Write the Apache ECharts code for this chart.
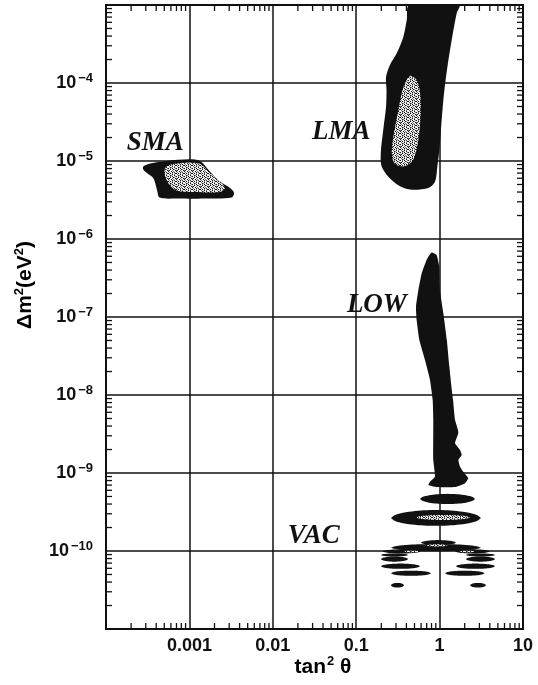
<!DOCTYPE html>
<html>
<head>
<meta charset="utf-8">
<script src="https://cdn.jsdelivr.net/npm/echarts@6/dist/echarts.min.js"></script>
<style>
html,body{margin:0;padding:0;background:#fff;}
#c{width:538px;height:685px;}
</style>
</head>
<body>
<div id="c"></div>
<script>
// ---- axis ranges / tick labels ----
const X_MIN = 1e-4, X_MAX = 10;
const Y_MIN = 1e-11, Y_MAX = 1e-3;
const xTickLabels = { '-3': '0.001', '-2': '0.01', '-1': '0.1', '0': '1', '1': '10' };
const yTickExponents = [-4, -5, -6, -7, -8, -9, -10];
const minorMantissas = [2, 3, 4, 5, 6, 7, 8, 9];
const xDecades = [-4, -3, -2, -1, 0];
const yDecades = [-11, -10, -9, -8, -7, -6, -5, -4];

// ---- allowed regions: [tan^2 theta, delta m^2] outline points ----
const smaOuter = [[2.8e-4,8.5e-6],[3.4e-4,9.3e-6],[5.3e-4,1.0e-5],[1.0e-3,1.05e-5],[1.34e-3,1.0e-5],[1.77e-3,7.3e-6],[2.33e-3,5.4e-6],[3.07e-3,4.5e-6],[3.43e-3,3.9e-6],[3.2e-3,3.4e-6],[1.77e-3,3.3e-6],[7.0e-4,3.3e-6],[4.4e-4,3.4e-6],[4.1e-4,4.2e-6],[3.7e-4,6.0e-6],[3.1e-4,7.0e-6],[2.8e-4,7.8e-6]];
const smaInner = [[5.3e-4,8.5e-6],[7.0e-4,9.3e-6],[1.0e-3,9.6e-6],[1.34e-3,9.2e-6],[1.77e-3,7.0e-6],[2.33e-3,5.4e-6],[2.67e-3,4.5e-6],[2.33e-3,4.0e-6],[1.11e-3,4.0e-6],[7.0e-4,4.2e-6],[5.6e-4,5.2e-6],[5.0e-4,7.0e-6]];
const lmaOuter = [[0.434,1e-3],[0.404,6.4e-4],[0.367,3.9e-4],[0.306,2.4e-4],[0.254,1.7e-4],[0.228,1.2e-4],[0.231,8.1e-5],[0.228,5.0e-5],[0.211,2.5e-5],[0.197,1.26e-5],[0.202,8.5e-6],[0.243,6.3e-6],[0.320,4.9e-6],[0.442,4.3e-6],[0.733,4.5e-6],[0.88,5.4e-6],[0.94,8.5e-6],[1.0,1.5e-5],[1.06,3.4e-5],[1.13,7.4e-5],[1.24,1.6e-4],[1.40,3.6e-4],[1.60,7.8e-4],[1.72,1e-3]];
const lmaInner = [[0.44,1.23e-4],[0.37,9.0e-5],[0.32,4.5e-5],[0.279,2.05e-5],[0.267,1.26e-5],[0.29,9.3e-6],[0.37,8.5e-6],[0.48,1.03e-5],[0.556,1.86e-5],[0.593,4.1e-5],[0.585,7.4e-5],[0.53,1.09e-4]];
const lowRegion = [[0.80,6.7e-7],[0.70,5.4e-7],[0.61,3.6e-7],[0.556,2.2e-7],[0.521,1.36e-7],[0.53,9.2e-8],[0.571,5.1e-8],[0.668,2.8e-8],[0.767,1.56e-8],[0.826,8.6e-9],[0.84,4.8e-9],[0.84,1.47e-9],[0.88,9.0e-10],[0.767,7.7e-10],[0.733,7.0e-10],[0.923,6.6e-10],[1.53,6.6e-10],[2.02,7.4e-10],[2.21,8.6e-10],[1.92,1.04e-9],[1.76,1.2e-9],[1.68,1.47e-9],[1.84,1.7e-9],[1.76,1.97e-9],[1.53,2.4e-9],[1.68,3.3e-9],[1.53,4.8e-9],[1.45,8.6e-9],[1.40,1.16e-8],[1.31,2.3e-8],[1.22,5.1e-8],[1.11,1.11e-7],[1.01,2.2e-7],[0.99,4.4e-7],[0.923,6.2e-7]];
// VAC islands: [tan^2 left, tan^2 right, dm^2 low, dm^2 high]
const vacBands = [
  [0.582,2.66,4.0e-10,5.4e-10],
  [0.261,3.13,2.1e-10,3.35e-10],
  [0.598,1.57,1.19e-10,1.38e-10],
  [0.261,3.13,0.99e-10,1.23e-10],
  [0.206,0.598,9.3e-11,1.05e-10],[1.53,4.02,9.3e-11,1.05e-10],
  [0.198,0.418,8.5e-11,9.3e-11],[2.07,4.62,8.5e-11,9.3e-11],
  [0.198,0.418,7.3e-11,8.5e-11],[2.07,4.62,7.3e-11,8.5e-11],
  [0.198,0.582,5.9e-11,6.9e-11],[1.57,4.62,5.9e-11,6.9e-11],
  [0.261,0.789,4.8e-11,5.6e-11],[1.16,3.47,4.8e-11,5.6e-11],
  [0.261,0.374,3.4e-11,3.9e-11],[2.32,3.60,3.4e-11,3.9e-11]
];
const vacInner = [[0.521,2.32,2.5e-10,2.9e-10],[0.70,1.25,1.14e-10,1.22e-10],[0.38,0.56,9.6e-11,1.01e-10],[1.75,2.6,9.6e-11,1.01e-10]];
// region names: [name, tan^2, dm^2]
const regionNames = [['SMA',3.9e-4,1.7e-5],['LMA',0.066,2.35e-5],['LOW',0.177,1.43e-7],['VAC',0.031,1.56e-10]];

// ---- styling helpers ----
const INK = '#111';
const STIPPLE_ROWS = [
  'X.g.X..g',
  '..X..Xg.',
  'gX..g..X',
  'X..X.g..',
  '.g..X.X.',
  'X.X.g..X',
  '.g..X.g.',
  '..Xg..X.'
];
function stipplePattern() {
  const N = STIPPLE_ROWS.length;
  const c = document.createElement('canvas');
  c.width = N; c.height = N;
  const g = c.getContext('2d');
  g.fillStyle = '#f0f0f0'; g.fillRect(0, 0, N, N);
  STIPPLE_ROWS.forEach((row, y) => {
    for (let x = 0; x < row.length; x++) {
      const ch = row[x];
      if (ch === 'X') { g.fillStyle = '#151515'; g.fillRect(x, y, 1, 1); }
      else if (ch === 'g') { g.fillStyle = '#777'; g.fillRect(x, y, 1, 1); }
    }
  });
  return { image: c, repeat: 'repeat' };
}
const STIPPLE = stipplePattern();

function regionSeries(pts, fill, smooth, z) {
  return {
    type: 'custom', coordinateSystem: 'cartesian2d', clip: true, silent: true, z: z,
    data: pts, encode: { x: 0, y: 1 },
    renderItem: function (params, api) {
      if (params.dataIndex !== 0) return null;
      const points = pts.map(p => api.coord(p));
      return { type: 'polygon', shape: { points: points, smooth: smooth }, style: { fill: fill, stroke: null } };
    }
  };
}
function bandSeries(bands, fill, z) {
  return {
    type: 'custom', coordinateSystem: 'cartesian2d', clip: true, silent: true, z: z,
    data: bands, encode: { x: [0, 1], y: [2, 3] },
    renderItem: function (params, api) {
      const a = api.coord([api.value(0), api.value(2)]);
      const b = api.coord([api.value(1), api.value(3)]);
      const cx = (a[0] + b[0]) / 2, cy = (a[1] + b[1]) / 2;
      const rx = Math.abs(b[0] - a[0]) / 2, ry = Math.abs(b[1] - a[1]) / 2;
      const top = [], bot = [];
      const n = 30;
      for (let i = 0; i <= n; i++) {
        const t = -1 + 2 * i / n;
        const h = ry * Math.pow(Math.max(0, 1 - t * t), 0.55);
        top.push([cx + rx * t, cy - h]);
        bot.unshift([cx + rx * t, cy + h]);
      }
      return { type: 'polygon', shape: { points: top.concat(bot) }, style: { fill: fill, stroke: null } };
    }
  };
}

const xMinorTicks = [];
xDecades.forEach(e => minorMantissas.forEach(m => xMinorTicks.push([m * Math.pow(10, e), Y_MIN])));
const yMinorTicks = [];
yDecades.forEach(e => minorMantissas.forEach(m => yMinorTicks.push([X_MIN, m * Math.pow(10, e)])));

function tickSeries(data, vertical) {
  return {
    type: 'custom', coordinateSystem: 'cartesian2d', clip: false, silent: true, z: 5,
    data: data, encode: { x: 0, y: 1 },
    renderItem: function (params, api) {
      const v = api.value(vertical ? 0 : 1);
      const L = 6;
      const st = { stroke: INK, lineWidth: 1.3 };
      if (vertical) {
        const p = api.coord([v, Y_MIN]), q = api.coord([v, Y_MAX]);
        return { type: 'group', children: [
          { type: 'line', shape: { x1: p[0], y1: p[1], x2: p[0], y2: p[1] - L }, style: st },
          { type: 'line', shape: { x1: q[0], y1: q[1], x2: q[0], y2: q[1] + L }, style: st }
        ]};
      } else {
        const p = api.coord([X_MIN, v]), q = api.coord([X_MAX, v]);
        return { type: 'group', children: [
          { type: 'line', shape: { x1: p[0], y1: p[1], x2: p[0] + L, y2: p[1] }, style: st },
          { type: 'line', shape: { x1: q[0], y1: q[1], x2: q[0] - L, y2: q[1] }, style: st }
        ]};
      }
    }
  };
}

const labelSeries = {
  type: 'custom', coordinateSystem: 'cartesian2d', clip: false, silent: true, z: 6,
  data: regionNames.map(r => [r[1], r[2], r[0]]), encode: { x: 0, y: 1 },
  renderItem: function (params, api) {
    const p = api.coord([api.value(0), api.value(1)]);
    return { type: 'text', x: p[0], y: p[1], style: {
      text: regionNames[params.dataIndex][0], fill: INK,
      font: 'italic bold 27px "Liberation Serif", "DejaVu Serif", serif',
      align: 'center', verticalAlign: 'middle' } };
  }
};

const sansBold = { fontFamily: 'Liberation Sans, Arial, sans-serif', fontWeight: 'bold', color: INK };

const chart = echarts.init(document.getElementById('c'), null, { renderer: 'canvas' });
chart.setOption({
  backgroundColor: '#fff',
  animation: false,
  grid: { left: 106, right: 15, top: 5, bottom: 56, show: true, borderColor: INK, borderWidth: 2, backgroundColor: 'transparent' },
  xAxis: {
    type: 'log', logBase: 10, min: X_MIN, max: X_MAX, splitNumber: 5,
    axisLine: { show: false }, axisTick: { show: false },
    splitLine: { show: true, lineStyle: { color: INK, width: 1.5 } },
    axisLabel: {
      margin: 8, fontSize: 18, ...sansBold,
      formatter: function (v) { const e = Math.round(Math.log10(v)); return xTickLabels[String(e)] || ''; }
    }
  },
  yAxis: {
    type: 'log', logBase: 10, min: Y_MIN, max: Y_MAX, splitNumber: 8,
    axisLine: { show: false }, axisTick: { show: false },
    splitLine: { show: true, lineStyle: { color: INK, width: 1.5 } },
    axisLabel: {
      margin: 13,
      formatter: function (v) {
        const e = Math.round(Math.log10(v));
        if (yTickExponents.indexOf(e) < 0) return '';
        return '{b|10}{s|\u2212' + (-e) + '}';
      },
      rich: {
        b: { fontSize: 18, lineHeight: 22, ...sansBold },
        s: { fontSize: 13, lineHeight: 13, verticalAlign: 'top', ...sansBold, padding: [0, 0, 0, 2] }
      }
    }
  },
  graphic: [
    { type: 'text', x: 323, y: 667, silent: true, style: {
      text: '{a|tan}{s|2}{a| \u03b8}', align: 'center', verticalAlign: 'middle',
      rich: { a: { fontSize: 21, lineHeight: 24, ...sansBold }, s: { fontSize: 13, lineHeight: 13, verticalAlign: 'top', ...sansBold, padding: [0, 0, 0, 1] } } } },
    { type: 'text', x: 25, y: 285, rotation: Math.PI / 2, silent: true, style: {
      text: '{a|\u0394m}{s|2}{a|(eV}{s|2}{a|)}', align: 'center', verticalAlign: 'middle',
      rich: { a: { fontSize: 21, lineHeight: 24, ...sansBold }, s: { fontSize: 13, lineHeight: 13, verticalAlign: 'top', ...sansBold } } } }
  ],
  series: [
    regionSeries(smaOuter, INK, 0.3, 2),
    regionSeries(smaInner, STIPPLE, 0.3, 3),
    regionSeries(lmaOuter, INK, 0.3, 2),
    regionSeries(lmaInner, STIPPLE, 0.3, 3),
    regionSeries(lowRegion, INK, 0.15, 2),
    bandSeries(vacBands, INK, 2),
    bandSeries(vacInner, STIPPLE, 3),
    tickSeries(xMinorTicks, true),
    tickSeries(yMinorTicks, false),
    labelSeries
  ]
});
</script>
</body>
</html>
